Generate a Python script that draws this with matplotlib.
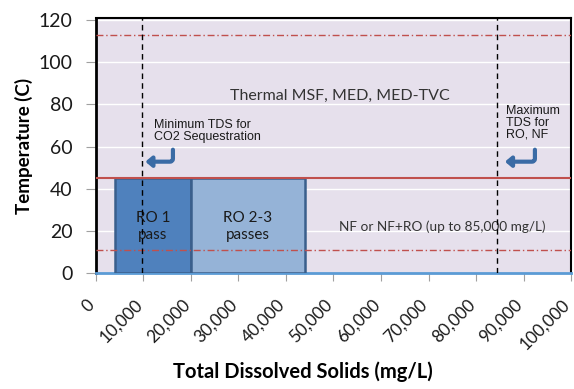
import matplotlib
matplotlib.use("Agg")
import matplotlib.pyplot as plt
from matplotlib.patches import Rectangle

# data
x_ticks = [0, 10000, 20000, 30000, 40000, 50000, 60000, 70000, 80000, 90000, 100000]
y_ticks = [0, 20, 40, 60, 80, 100, 120]

ro_boxes = [(4000, 20000), (20000, 44000)]
ro_labels = ["RO 1\npass", "RO 2-3\npasses"]
ro_colors = ["#4F81BD", "#95B3D7"]
ro_top = 45

thermal_limit = 45      # solid red line
upper_dashdot = 113
lower_dashdot = 11
min_tds_co2 = 9700
max_tds_ro = 84500

body = ["Lato", "DejaVu Sans"]
arial = ["Liberation Sans", "DejaVu Sans"]

fig = plt.figure(figsize=(5.74, 3.89), dpi=100)
ax = fig.add_axes([0.1672, 0.299, 0.8276, 0.654])
ax.set_facecolor("#E6E0EC")
ax.set_xlim(0, 100000)
ax.set_ylim(0, 121)

for y in y_ticks[1:]:
    ax.axhline(y, color="white", lw=1, zorder=1)

for (x0, x1), lab, c in zip(ro_boxes, ro_labels, ro_colors):
    ax.add_patch(Rectangle((x0, 0), x1 - x0, ro_top, facecolor=c,
                           edgecolor="#3A5F8C", lw=1.8, zorder=3))
    ax.text((x0 + x1) / 2, 22, lab, ha="center", va="center",
            fontsize=11, family=body, color="#1a1a1a", linespacing=1.25, zorder=5)

ax.axhline(thermal_limit, color="#C0504D", lw=1.5, zorder=4)
ax.axhline(upper_dashdot, color="#C0504D", lw=1, ls=(0, (5, 2, 1, 2)), zorder=4)
ax.axhline(lower_dashdot, color="#C0504D", lw=1, ls=(0, (5, 2, 1, 2)), zorder=4)
ax.axvline(min_tds_co2, color="black", lw=1, ls=(0, (4, 3)), zorder=6)
ax.axvline(max_tds_ro, color="black", lw=1, ls=(0, (4, 3)), zorder=6)

ax.text(51400, 84, "Thermal MSF, MED, MED-TVC", ha="center", va="center",
        fontsize=11.5, family=body, color="#333333")
ax.text(72800, 22, "NF or NF+RO (up to 85,000 mg/L)", ha="center", va="center",
        fontsize=9.8, family=body, color="#333333", zorder=5)
ax.text(12200, 67.5, "Minimum TDS for\nCO2 Sequestration", ha="left", va="center",
        fontsize=9, family=arial, color="#1a1a1a", linespacing=0.95)
ax.text(86400, 71.3, "Maximum\nTDS for\nRO, NF", ha="left", va="center",
        fontsize=9, family=arial, color="#1a1a1a", linespacing=0.95)

arrow_kw = dict(arrowstyle="-|>,head_length=0.35,head_width=0.3", color="#3A6BA5",
                lw=3, connectionstyle="angle,angleA=90,angleB=0,rad=3",
                shrinkA=0, shrinkB=0)
ax.annotate("", xy=(10400, 52.8), xytext=(16200, 58.5), arrowprops=arrow_kw, zorder=6)
ax.annotate("", xy=(86100, 52.8), xytext=(92400, 58.5), arrowprops=arrow_kw, zorder=6)

ax.spines["left"].set_color("black")
ax.spines["left"].set_linewidth(2)
ax.spines["right"].set_color("black")
ax.spines["right"].set_linewidth(1.5)
ax.spines["top"].set_color("black")
ax.spines["top"].set_linewidth(1.5)
ax.spines["bottom"].set_color("#5B9BD5")
ax.spines["bottom"].set_linewidth(2)

ax.set_xticks(x_ticks)
ax.set_xticklabels([f"{v:,}" for v in x_ticks], rotation=45, ha="right", va="baseline",
                   rotation_mode="anchor", fontsize=12.3, family=body, color="#1a1a1a")
ax.set_yticks(y_ticks)
ax.set_yticklabels([str(v) for v in y_ticks], fontsize=14, family=body, color="#1a1a1a")
ax.tick_params(axis="x", length=6, color="#A0A0A0", pad=18)
ax.tick_params(axis="y", length=7, color="#A0A0A0", pad=10)

ax.set_xlabel("Total Dissolved Solids (mg/L)", fontsize=14.5, fontweight="bold",
              family=body)
ax.xaxis.set_label_coords(0.436, -0.35)
ax.set_ylabel("Temperature (C)", fontsize=13.5, fontweight="bold", family=body)
ax.yaxis.set_label_coords(-0.133, 0.5)

fig.savefig("out.png", dpi=100)
